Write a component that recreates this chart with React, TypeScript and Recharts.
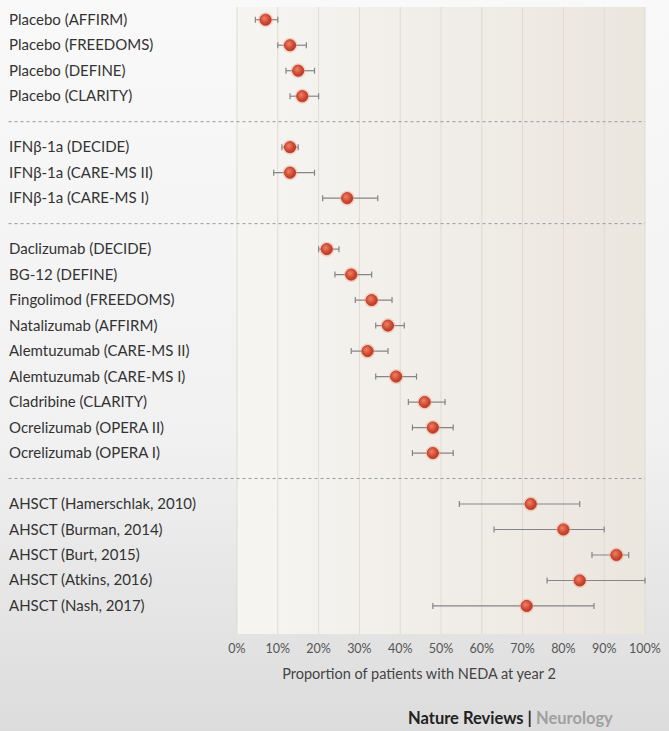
import React from 'react'
import { ScatterChart, Scatter, XAxis, YAxis, CartesianGrid, ErrorBar, ReferenceLine } from 'recharts'

// study labels, grouped (a dashed separator sits between groups)
const placeboLabels = ['Placebo (AFFIRM)', 'Placebo (FREEDOMS)', 'Placebo (DEFINE)', 'Placebo (CLARITY)']
const ifnLabels = ['IFNβ-1a (DECIDE)', 'IFNβ-1a (CARE-MS II)', 'IFNβ-1a (CARE-MS I)']
const dmtLabels = [
  'Daclizumab (DECIDE)',
  'BG-12 (DEFINE)',
  'Fingolimod (FREEDOMS)',
  'Natalizumab (AFFIRM)',
  'Alemtuzumab (CARE-MS II)',
  'Alemtuzumab (CARE-MS I)',
  'Cladribine (CLARITY)',
  'Ocrelizumab (OPERA II)',
  'Ocrelizumab (OPERA I)',
]
const ahsctLabels = [
  'AHSCT (Hamerschlak, 2010)',
  'AHSCT (Burman, 2014)',
  'AHSCT (Burt, 2015)',
  'AHSCT (Atkins, 2016)',
  'AHSCT (Nash, 2017)',
]

// NEDA at year 2 (%), with confidence interval ends
const neda = [7, 13, 15, 16, 13, 13, 27, 22, 28, 33, 37, 32, 39, 46, 48, 48, 72, 80, 93, 84, 71]
const ciLow = [4.5, 10, 12, 13, 11, 9, 21, 20, 24, 29, 34, 28, 34, 42, 43, 43, 54.5, 63, 87, 76, 48]
const ciHigh = [10, 17, 19, 20, 15, 19, 34.5, 25, 33, 38, 41, 37, 44, 51, 53, 53, 84, 90, 96, 100, 87.5]

const xTicks = [0, 10, 20, 30, 40, 50, 60, 70, 80, 90, 100]

const groups = [placeboLabels, ifnLabels, dmtLabels, ahsctLabels]

// one slot per study, one empty slot between groups
const rowLabels: Record<number, string> = {}
const separators: number[] = []
const rows: number[] = []
let slot = 0
groups.forEach((g, gi) => {
  g.forEach(label => {
    rowLabels[slot] = label
    rows.push(slot)
    slot++
  })
  if (gi < groups.length - 1) {
    separators.push(slot)
    slot++
  }
})
const allLabels = groups.flat()

const data = allLabels.map((label, i) => ({
  label,
  row: rows[i],
  value: neda[i],
  err: [neda[i] - ciLow[i], ciHigh[i] - neda[i]],
}))

const FONT = 'Lato, "Open Sans", sans-serif'
// separators run under the label column too (x in axis units, left of 0%)
const SEP_START = -56

function StudyTick(props: any) {
  const { y, payload } = props
  return (
    <text x={9} y={y} dy={5} textAnchor="start" fontSize={15} fill="#333" fontFamily={FONT}>
      {rowLabels[payload.value] ?? ''}
    </text>
  )
}

function Ball(props: any) {
  const { cx, cy } = props
  return (
    <g>
      <circle cx={cx} cy={cy} r={7.5} fill="#f3a58e" fillOpacity={0.45} />
      <circle cx={cx} cy={cy} r={5.6} fill="url(#ball)" stroke="#b23a25" strokeWidth={0.8} />
    </g>
  )
}

export default function App() {
  return (
    <div
      style={{
        position: 'absolute',
        left: 0,
        top: 0,
        width: 669,
        height: 731,
        background: 'linear-gradient(180deg, #f9f9f9 0%, #f1f1f1 60%, #dcdcdc 100%)',
        fontFamily: FONT,
        overflow: 'hidden',
      }}
    >
      <ScatterChart width={669} height={700} margin={{ top: 7, right: 24, bottom: 0, left: 0 }}>
        <defs>
          <radialGradient id="ball" cx="40%" cy="38%" r="65%">
            <stop offset="0%" stopColor="#ee8068" />
            <stop offset="60%" stopColor="#d24c34" />
            <stop offset="100%" stopColor="#b53825" />
          </radialGradient>
          <linearGradient id="plotBg" x1="0" y1="0" x2="1" y2="0">
            <stop offset="0%" stopColor="#f6f5f2" />
            <stop offset="100%" stopColor="#ebe6de" />
          </linearGradient>
        </defs>
        <CartesianGrid
          horizontal={false}
          vertical
          stroke="#e0dbd3"
          fill="url(#plotBg)"
          verticalValues={xTicks}
        />
        <XAxis
          type="number"
          dataKey="value"
          domain={[0, 100]}
          allowDataOverflow
          ticks={xTicks}
          interval={0}
          tickFormatter={(v: number) => `${v}%`}
          axisLine={false}
          tickLine={false}
          tick={{ fontSize: 12.5, fill: '#555', fontFamily: FONT }}
          tickMargin={4}
          height={66}
          label={{
            value: 'Proportion of patients with NEDA at year 2',
            position: 'insideBottom',
            offset: 21,
            dx: -22,
            fontSize: 14.5,
            fill: '#444',
            fontFamily: FONT,
          }}
        />
        <YAxis
          type="number"
          dataKey="row"
          domain={[-0.5, 24.1]}
          reversed
          ticks={rows}
          interval={0}
          axisLine={false}
          tickLine={false}
          width={237}
          tick={<StudyTick />}
        />
        {separators.map(s => (
          <ReferenceLine
            key={s}
            segment={[
              { x: SEP_START, y: s },
              { x: 100, y: s },
            ]}
            stroke="#9a9a9a"
            strokeDasharray="3 3"
            ifOverflow="visible"
          />
        ))}
        <Scatter data={data} shape={<Ball />} isAnimationActive={false}>
          <ErrorBar dataKey="err" direction="x" width={3} stroke="#858585" strokeWidth={1.2} />
        </Scatter>
      </ScatterChart>
      <div
        style={{
          position: 'absolute',
          left: 408,
          top: 708,
          fontSize: 16.5,
          fontWeight: 700,
          color: '#222',
          whiteSpace: 'nowrap',
        }}
      >
        Nature Reviews <span style={{ color: '#222' }}>|</span> <span style={{ color: '#a0a0a0' }}>Neurology</span>
      </div>
    </div>
  )
}
